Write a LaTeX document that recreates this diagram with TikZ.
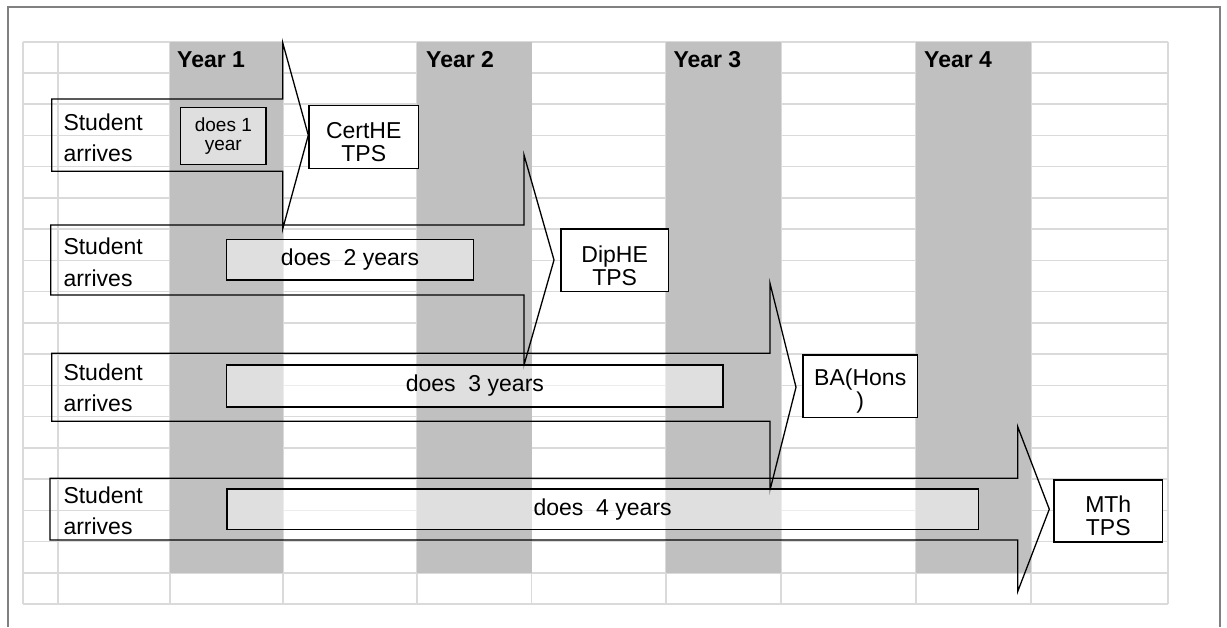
\documentclass[tikz,border=0pt]{standalone}
\usepackage{fontspec}
\setmainfont{Liberation Sans}
\usetikzlibrary{positioning}
\definecolor{gridgray}{RGB}{218,218,218}
\definecolor{yeargray}{RGB}{192,192,192}
\definecolor{framegray}{RGB}{128,128,128}
\begin{document}
\begin{tikzpicture}[x=1pt,y=-1pt,line join=miter,
		arrow shape/.style={draw=black,line width=1.3pt},
		year band/.style={fill=yeargray},
		year label/.style={anchor=base west,inner sep=0pt,font=\fontsize{23pt}{25pt}\selectfont\bfseries},
		stud text/.style={anchor=base west,inner sep=0pt,font=\fontsize{23pt}{26pt}\selectfont},
		does box/.style={draw=black,line width=1.3pt,fill=white,fill opacity=0.5,text opacity=1,inner sep=0pt,align=center,font=\fontsize{23pt}{26pt}\selectfont},
		award box/.style={draw=black,line width=1.3pt,fill=white,inner sep=0pt,align=center,font=\fontsize{23pt}{23pt}\selectfont}]
	\useasboundingbox (0,0) rectangle (1227,627);
	\draw[framegray,line width=2pt] (8,627) -- (8,7) -- (1220,7) -- (1220,627);
	\foreach \k in {0,...,18}
		\draw[gridgray,line width=1.6pt] (22.7,41.7+\k*31.24) -- (1168,41.7+\k*31.24);
	\foreach \x in {22.7,57.7,170,283,417,531.5,666,781,916,1031,1168}
		\draw[gridgray,line width=1.6pt] (\x,41.7) -- (\x,604);
	\foreach \a/\b in {170/283,417/531.5,666/781,916/1031}
		\fill[year band] (\a,41.7) rectangle (\b,572.7);
	\node[year label] (y1) at (177,67.3) {Year 1};
	\node[year label] (y2) at (426,67.3) {Year 2};
	\node[year label] (y3) at (673.3,67.3) {Year 3};
	\node[year label] (y4) at (924,67.3) {Year 4};
	\draw[arrow shape] (51.7,99) -- (282.7,99) -- (282.7,42.7) -- (308.3,135.2) -- (282.7,229) -- (282.7,171.3) -- (51.7,171.3) -- cycle;
	\draw[arrow shape] (50.7,225) -- (524,225) -- (524,155) -- (554,260) -- (524,365) -- (524,295) -- (50.7,295) -- cycle;
	\draw[arrow shape] (51.7,353.3) -- (770,353.3) -- (770,283.3) -- (796,387.2) -- (770,490) -- (770,421.3) -- (51.7,421.3) -- cycle;
	\draw[arrow shape] (50,478.3) -- (1017.7,478.3) -- (1017.7,426.7) -- (1049.3,509.2) -- (1017.7,591.5) -- (1017.7,540) -- (50,540) -- cycle;
	\node[stud text] (s1) at (63.3,130) {Student};
	\node[stud text,below=31.6pt of s1.base west,anchor=base west] (a1) {arrives};
	\node[stud text] (s2) at (63.3,254.5) {Student};
	\node[stud text,below=31.6pt of s2.base west,anchor=base west] (a2) {arrives};
	\node[stud text] (s3) at (63.3,380) {Student};
	\node[stud text,below=31.6pt of s3.base west,anchor=base west] (a3) {arrives};
	\node[stud text] (s4) at (63.3,503.3) {Student};
	\node[stud text,below=31.6pt of s4.base west,anchor=base west] (a4) {arrives};
	\node[does box,minimum width=85.3pt,minimum height=57.2pt,font=\fontsize{19pt}{19pt}\selectfont] (d1) at (223.35,136.1) {does 1\\year};
	\node[does box,minimum width=246.6pt,minimum height=40.5pt] (d2) at (350,259.75) {does\ \ 2 years};
	\node[does box,minimum width=496.2pt,minimum height=42pt] (d3) at (474.9,386) {does\ \ 3 years};
	\node[does box,minimum width=751.3pt,minimum height=40.3pt] (d4) at (602.65,509.15) {does\ \ 4 years};
	\node[award box,minimum width=109.5pt,minimum height=62.8pt] (c1) at (363.75,136.9) {\rule{0pt}{27pt}CertHE\\TPS};
	\node[award box,minimum width=107.3pt,minimum height=62.7pt] (c2) at (614.65,260.35) {\rule{0pt}{27pt}DipHE\\TPS};
	\node[award box,minimum width=114.5pt,minimum height=62.5pt] (c3) at (860.25,386.25) {\rule{0pt}{27pt}BA(Hons\\)};
	\node[award box,minimum width=108.5pt,minimum height=62pt] (c4) at (1108.25,511) {\rule{0pt}{27pt}MTh\\TPS};
\end{tikzpicture}
\end{document}
